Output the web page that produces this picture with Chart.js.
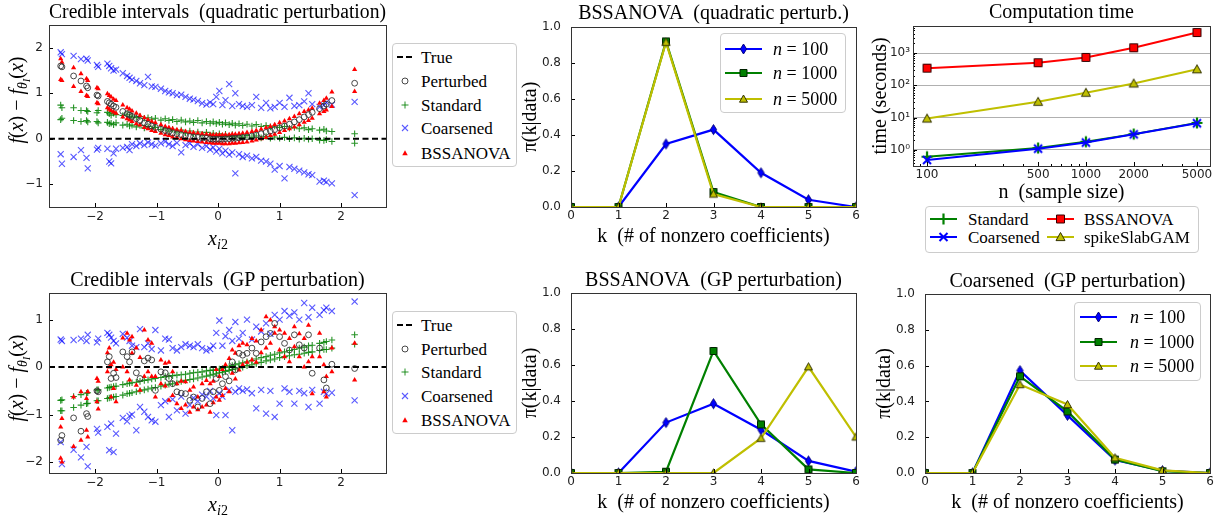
<!DOCTYPE html>
<html>
<head>
<meta charset="utf-8">
<title>Credible intervals and posterior on k</title>
<script src="https://cdn.jsdelivr.net/npm/chart.js@4.4.1/dist/chart.umd.min.js"></script>
<style>
  html, body { margin: 0; padding: 0; background: #fff; }
  body { position: relative; width: 1221px; height: 516px; overflow: hidden; }
  canvas { position: absolute; }
  .legend { position: absolute; box-sizing: border-box; border: 1px solid #cccccc; border-radius: 4px; background: rgba(255,255,255,0.85); font-family: 'Liberation Serif', serif; color: #000; }
  .legend span { position: absolute; line-height: 1; white-space: nowrap; transform: translateY(-50%); }
  .axlbl { position: absolute; font-family: 'Liberation Serif', serif; font-size: 20px; line-height: 1; white-space: nowrap; color: #000; }
  .axlbl sub { font-size: 0.7em; vertical-align: -0.3em; line-height: 0; }
</style>
</head>
<body>
<script>
// ---------- data ----------
// sample locations x_i2 (shared by both credible-interval panels)
const xPts = [
  -2.56, -2.54, -2.35, -2.23, -2.14, -2.12, -1.97, -1.95, -1.80, -1.77,
  -1.74, -1.70, -1.66, -1.55, -1.48, -1.44, -1.40, -1.33, -1.27, -1.20,
  -1.14, -1.08, -1.02, -0.93, -0.86, -0.80, -0.74, -0.67, -0.60, -0.53,
  -0.46, -0.40, -0.33, -0.26, -0.19, -0.13, -0.08, -0.03, 0.02, 0.07,
  0.12, 0.18, 0.23, 0.28, 0.34, 0.40, 0.47, 0.55, 0.62, 0.70,
  0.78, 0.85, 0.92, 1.00, 1.08, 1.16, 1.24, 1.32, 1.40, 1.47,
  1.53, 1.65, 1.72, 1.76, 1.85, 2.22
];

// quadratic perturbation
const quadPert = [
  1.60, 1.58, 1.38, 1.27, 1.16, 1.12, 0.96, 0.94, 0.82, 0.79,
  0.76, 0.72, 0.69, 0.60, 0.55, 0.52, 0.49, 0.44, 0.40, 0.35,
  0.32, 0.28, 0.25, 0.21, 0.18, 0.16, 0.13, 0.11, 0.09, 0.07,
  0.05, 0.04, 0.03, 0.02, 0.01, 0.00, -0.01, -0.01, -0.01, -0.01,
  0.00, 0.00, 0.01, 0.01, 0.02, 0.03, 0.04, 0.06, 0.08, 0.11,
  0.14, 0.17, 0.20, 0.24, 0.28, 0.32, 0.37, 0.42, 0.48, 0.53,
  0.58, 0.66, 0.72, 0.76, 0.84, 1.22
];
const quadBssHi = [
  1.76, 1.68, 1.56, 1.43, 1.32, 1.28, 1.12, 1.10, 0.99, 0.95,
  0.92, 0.87, 0.84, 0.74, 0.68, 0.65, 0.61, 0.56, 0.51, 0.46,
  0.42, 0.38, 0.35, 0.31, 0.27, 0.25, 0.22, 0.20, 0.18, 0.16,
  0.14, 0.13, 0.12, 0.11, 0.10, 0.09, 0.08, 0.08, 0.08, 0.08,
  0.09, 0.09, 0.10, 0.10, 0.11, 0.12, 0.14, 0.16, 0.18, 0.21,
  0.24, 0.27, 0.31, 0.35, 0.39, 0.44, 0.49, 0.55, 0.60, 0.63,
  0.67, 0.78, 0.84, 0.89, 1.03, 1.52
];
const quadBssLo = [
  1.30, 1.28, 1.15, 1.04, 0.95, 0.93, 0.79, 0.77, 0.68, 0.65,
  0.62, 0.59, 0.56, 0.48, 0.44, 0.41, 0.38, 0.33, 0.30, 0.25,
  0.22, 0.18, 0.16, 0.12, 0.09, 0.07, 0.04, 0.02, 0.00, -0.02,
  -0.04, -0.05, -0.06, -0.07, -0.08, -0.09, -0.10, -0.10, -0.10, -0.11,
  -0.11, -0.11, -0.10, -0.10, -0.09, -0.08, -0.07, -0.05, -0.03, 0.00,
  0.03, 0.07, 0.10, 0.14, 0.18, 0.22, 0.26, 0.31, 0.36, 0.40,
  0.45, 0.55, 0.60, 0.63, 0.71, 1.04
];
const quadStdHi = [
  0.74, 0.68, 0.68, 0.62, 0.62, 0.60, 0.57, 0.62, 0.58, 0.55,
  0.52, 0.56, 0.53, 0.51, 0.54, 0.48, 0.50, 0.47, 0.49, 0.45,
  0.46, 0.43, 0.45, 0.41, 0.44, 0.40, 0.42, 0.38, 0.41, 0.37,
  0.39, 0.36, 0.40, 0.35, 0.38, 0.34, 0.37, 0.33, 0.36, 0.32,
  0.35, 0.31, 0.34, 0.30, 0.33, 0.29, 0.32, 0.28, 0.31, 0.27,
  0.29, 0.26, 0.28, 0.25, 0.27, 0.23, 0.25, 0.22, 0.24, 0.20,
  0.22, 0.19, 0.21, 0.17, 0.16, 0.11
];
const quadStdLo = [
  0.42, 0.45, 0.40, 0.38, 0.40, 0.37, 0.38, 0.35, 0.36, 0.33,
  0.34, 0.31, 0.35, 0.30, 0.32, 0.28, 0.30, 0.26, 0.29, 0.24,
  0.27, 0.22, 0.25, 0.20, 0.23, 0.17, 0.21, 0.15, 0.19, 0.13,
  0.17, 0.11, 0.15, 0.10, 0.14, 0.08, 0.12, 0.07, 0.11, 0.06,
  0.10, 0.05, 0.09, 0.04, 0.08, 0.03, 0.07, 0.03, 0.06, 0.02,
  0.05, 0.01, 0.04, 0.01, 0.03, 0.00, 0.02, -0.01, 0.01, -0.01,
  0.00, -0.03, -0.04, -0.02, -0.06, -0.10
];
const quadCoarHi = [
  1.90, 1.86, 1.82, 1.75, 1.76, 1.72, 1.62, 1.58, 1.65, 1.60,
  1.55, 1.50, 1.52, 1.44, 1.38, 1.34, 1.30, 1.27, 1.22, 1.18,
  1.36, 1.15, 1.14, 1.10, 1.05, 1.02, 1.00, 0.96, 0.97, 0.92,
  0.88, 0.86, 0.83, 0.78, 0.75, 0.80, 0.76, 0.92, 1.05, 0.74,
  0.85, 1.20, 0.72, 1.00, 0.76, 0.72, 0.70, 0.74, 0.92, 0.68,
  0.79, 0.67, 0.70, 0.79, 0.70, 0.90, 0.72, 0.74, 0.82, 1.00,
  0.76, 0.70, 0.74, 0.80, 0.75, 0.81
];
const quadCoarLo = [
  -0.34, -0.55, -0.40, -0.25, -0.42, -0.65, -0.24, -0.20, -0.22, -0.50,
  -0.54, -0.32, -0.22, -0.20, -0.18, -0.25, -0.12, -0.16, -0.10, -0.14,
  -0.08, -0.12, -0.15, -0.10, -0.06, -0.12, -0.16, -0.09, -0.30, -0.14,
  -0.10, -0.18, -0.12, -0.20, -0.16, -0.24, -0.19, -0.28, -0.22, -0.32,
  -0.26, -0.35, -0.30, -0.76, -0.34, -0.40, -0.37, -0.43, -0.40, -0.48,
  -0.50, -0.55, -0.68, -0.60, -0.87, -0.62, -0.66, -0.70, -0.74, -0.78,
  -0.80, -0.94, -0.92, -0.95, -0.98, -1.24
];

// GP perturbation
const gpPert = [
  -1.54, -1.44, -1.07, -1.35, -0.98, -1.04, -0.50, -0.52, 0.11, 0.22,
  -0.24, -0.13, -0.22, 0.32, 0.22, 0.11, 0.32, -0.12, -0.24, 0.13,
  0.19, 0.15, -0.49, -0.10, -0.12, -0.24, -0.35, -0.52, -0.55, -0.56,
  -0.70, -0.63, -0.84, -0.66, -0.52, -0.77, -0.52, -0.24, -0.49, -0.35,
  -0.20, -0.29, 0.11, -0.06, 0.29, 0.25, 0.29, 0.40, 0.29, 0.53,
  0.64, 0.71, 0.92, 0.64, 0.50, 0.36, 0.68, 0.47, 0.40, 0.68,
  -0.13, 0.40, -0.27, -0.44, 0.06, -0.03
];
const gpBssHi = [
  -1.26, -1.08, -0.63, -0.52, -0.66, -0.52, -0.24, -0.30, 0.30, 0.40,
  0.05, 0.10, -0.05, 0.61, 0.71, 0.57, 0.64, 0.40, 0.20, 0.78,
  0.57, 0.50, -0.20, 0.15, 0.08, 0.10, -0.10, -0.35, -0.30, -0.31,
  -0.49, -0.42, -0.63, -0.35, -0.28, -0.35, -0.30, -0.05, -0.20, -0.05,
  0.05, 0.18, 0.36, 0.29, 0.45, 0.50, 0.47, 0.60, 0.55, 0.78,
  1.06, 0.99, 0.85, 0.78, 0.71, 0.60, 0.85, 0.70, 0.60, 0.88,
  0.22, 0.71, 0.05, -0.20, 0.40, 0.50
];
const gpBssLo = [
  -1.92, -2.00, -1.67, -1.54, -1.33, -1.47, -0.73, -0.88, -0.10, 0.00,
  -0.63, -0.45, -0.73, 0.00, -0.10, -0.27, 0.29, -0.38, -0.49, -0.20,
  -0.10, -0.20, -0.63, -0.35, -0.40, -0.70, -0.60, -0.77, -0.87, -0.80,
  -0.95, -0.84, -0.90, -0.84, -0.80, -0.95, -0.75, -0.63, -0.70, -0.60,
  -0.45, -0.52, -0.13, -0.25, -0.06, 0.05, 0.10, 0.15, 0.10, 0.30,
  0.40, 0.50, 0.71, 0.36, 0.22, 0.11, 0.43, 0.22, 0.00, 0.11,
  -0.56, 0.22, -0.52, -0.63, -0.10, -0.27
];
const gpStdHi = [
  -0.70, -0.69, -0.62, -0.58, -0.55, -0.54, -0.48, -0.48, -0.44, -0.43,
  -0.42, -0.41, -0.40, -0.37, -0.35, -0.34, -0.33, -0.32, -0.30, -0.28,
  -0.27, -0.25, -0.24, -0.22, -0.20, -0.19, -0.18, -0.17, -0.16, -0.15,
  -0.13, -0.12, -0.11, -0.10, -0.08, -0.07, -0.06, -0.06, -0.04, -0.03,
  -0.01, 0.01, 0.03, 0.05, 0.07, 0.09, 0.11, 0.14, 0.17, 0.20,
  0.22, 0.25, 0.27, 0.30, 0.32, 0.35, 0.37, 0.40, 0.42, 0.45,
  0.46, 0.50, 0.52, 0.54, 0.57, 0.68
];
const gpStdLo = [
  -0.92, -0.92, -0.85, -0.80, -0.77, -0.76, -0.71, -0.71, -0.66, -0.65,
  -0.64, -0.63, -0.62, -0.59, -0.56, -0.55, -0.54, -0.52, -0.50, -0.48,
  -0.46, -0.44, -0.43, -0.40, -0.38, -0.36, -0.35, -0.33, -0.30, -0.28,
  -0.26, -0.25, -0.23, -0.21, -0.19, -0.17, -0.15, -0.14, -0.12, -0.11,
  -0.09, -0.07, -0.05, -0.04, -0.02, 0.00, 0.03, 0.05, 0.07, 0.10,
  0.13, 0.15, 0.17, 0.20, 0.22, 0.24, 0.26, 0.27, 0.29, 0.31,
  0.32, 0.35, 0.37, 0.37, 0.40, 0.48
];
const gpCoarHi = [
  0.58, 0.55, 0.57, 0.60, 0.55, 0.68, 0.52, 0.60, 0.72, 0.68,
  0.62, 0.55, 0.50, 0.70, 0.62, 0.55, 0.45, 0.42, 0.80, 0.42,
  0.50, 0.38, 0.78, 0.35, 0.60, 0.58, 0.40, 0.35, 0.42, 0.48,
  0.45, 0.42, 0.48, 0.40, 0.35, 0.38, 0.45, 0.72, 0.98, 0.45,
  0.65, 0.78, 0.55, 0.95, 0.60, 0.72, 1.00, 0.58, 0.85, 0.75,
  0.92, 0.70, 1.10, 1.00, 1.18, 1.08, 1.15, 1.00, 1.35, 1.05,
  1.25, 1.10, 1.20, 1.25, 1.18, 1.38
];
const gpCoarLo = [
  -1.58, -2.04, -1.74, -1.90, -1.68, -2.09, -1.30, -1.38, -1.26, -1.75,
  -1.19, -1.79, -1.40, -1.07, -1.14, -1.03, -1.00, -1.33, -0.84, -0.94,
  -1.05, -1.12, -1.15, -0.80, -0.72, -1.05, -0.68, -0.91, -0.62, -0.98,
  -0.80, -0.65, -0.72, -0.58, -0.62, -0.50, -0.66, -1.01, -0.55, -0.62,
  -1.01, -0.48, -1.33, -0.52, -0.45, -0.50, -0.47, -0.55, -0.87, -0.48,
  -0.98, -0.50, -1.05, -0.77, -0.45, -0.52, -0.77, -0.50, -0.55, -0.84,
  -0.48, -0.77, -0.52, -0.56, -0.54, -0.70
];
const trueDiff = [0, 0];           // f(x) - f_theta(x) for the true model, at both axis ends

// posterior on k
const kVals = [0, 1, 2, 3, 4, 5, 6];
const quadN100 = [0, 0, 0.35, 0.43, 0.19, 0.04, 0.0];
const quadN1000 = [0, 0, 0.92, 0.083, 0, 0, 0];
const quadN5000 = [0, 0, 0.915, 0.072, 0, 0, 0];
const gpN100 = [0, 0, 0.28, 0.385, 0.24, 0.067, 0.007];
const gpN1000 = [0, 0, 0.007, 0.678, 0.27, 0.02, 0];
const gpN5000 = [0, 0, 0, 0, 0.193, 0.59, 0.2];
const coarN100 = [0, 0, 0.572, 0.322, 0.072, 0.013, 0];
const coarN1000 = [0, 0, 0.54, 0.344, 0.075, 0.01, 0];
const coarN5000 = [0, 0, 0.494, 0.383, 0.085, 0.015, 0];

// computation time
const nSizes = [100, 500, 1000, 2000, 5000];
const timeStandard = [0.62, 1.15, 1.8, 3.1, 6.9];
const timeCoarsened = [0.49, 1.1, 1.7, 3.05, 6.7];
const timeBssanova = [340, 500, 730, 1450, 4300];
const timeSpike = [9.4, 31, 59, 114, 313];

// axis limits and tick labels
const scatterXRange = [-2.75, 2.73];
const quadYRange = [-1.5, 2.5];
const gpYRange = [-2.23, 1.56];
const scatterXTicks = [-2, -1, 0, 1, 2];
const quadYTicks = [-1, 0, 1, 2];
const gpYTicks = [-2, -1, 0, 1];
const kTicks = [0, 1, 2, 3, 4, 5, 6];
const probTicks = [0, 0.2, 0.4, 0.6, 0.8, 1.0];
const nRange = [81.6, 6040];
const timeRange = [0.32, 6840];
const nTicks = [100, 500, 1000, 2000, 5000];
const nMinor = [90, 200, 300, 400, 600, 700, 800, 900, 3000, 4000, 6000];
const timeTicks = [1, 10, 100, 1000];
const timeMinor = [0.4, 0.5, 0.6, 0.7, 0.8, 0.9, 2, 3, 4, 5, 6, 7, 8, 9,
  20, 30, 40, 50, 60, 70, 80, 90, 200, 300, 400, 500, 600, 700, 800, 900,
  2000, 3000, 4000, 5000, 6000];

// ---------- layout (canvas box c*, plot box p*) ----------
const G = {
  quadScatter: { cl: 0, ct: 0, cr: 392, cb: 247, pl: 49, pt: 25, pr: 386, pb: 207, titleY: 13 },
  quadBss: { cl: 516, ct: 0, cr: 866, cb: 250, pl: 571, pt: 27, pr: 856, pb: 207, titleY: 14, xTitleY: 237, yTitleX: 531 },
  time: { cl: 868, ct: 0, cr: 1221, cb: 205, pl: 913, pt: 26, pr: 1210, pb: 166, titleY: 13, xTitleY: 193, yTitleX: 881 },
  gpScatter: { cl: 0, ct: 262, cr: 392, cb: 516, pl: 49, pt: 293, pr: 386, pb: 473, titleY: 281 },
  gpBss: { cl: 516, ct: 262, cr: 866, cb: 516, pl: 571, pt: 293, pr: 856, pb: 473, titleY: 281, xTitleY: 503, yTitleX: 531 },
  gpCoarse: { cl: 870, ct: 262, cr: 1221, cb: 516, pl: 925, pt: 293, pr: 1210, pb: 473, titleY: 282, xTitleY: 503, yTitleX: 885 }
};

const serif = "'Liberation Serif', 'Times New Roman', serif";
const sans = "'DejaVu Sans', sans-serif";
Chart.defaults.font.family = sans;

// ---------- markers ----------
const BLUE = '#0000ff', GREEN = '#008000', YELLOW = '#bfbf00', RED = '#ff0000';
const mk = {
  diamond: { shape: 'diamond', size: 10, fill: BLUE, edge: '#000080', lw: 1 },
  squareG: { shape: 'square', size: 7, fill: GREEN, edge: '#002200', lw: 1 },
  triY: { shape: 'triangle', size: 8, fill: YELLOW, edge: '#333300', lw: 1 },
  plusG: { shape: 'plus', size: 11, edge: GREEN, lw: 2.2 },
  xB: { shape: 'x', size: 8, edge: BLUE, lw: 2 },
  squareR: { shape: 'square', size: 8, fill: RED, edge: '#330000', lw: 1 },
  triY9: { shape: 'triangle', size: 9, fill: YELLOW, edge: '#333300', lw: 1 },
  circ: { shape: 'circle', size: 6, edge: '#333', lw: 0.9 },
  plusS: { shape: 'plus', size: 7, edge: 'rgba(0,128,0,0.85)', lw: 1 },
  xS: { shape: 'x', size: 6, edge: 'rgba(0,0,255,0.65)', lw: 1.1 },
  triS: { shape: 'triangle', size: 5.5, fill: RED }
};

function drawShape(ctx, m) {
  const h = m.size / 2;
  ctx.beginPath();
  switch (m.shape) {
    case 'circle': ctx.arc(0, 0, h, 0, Math.PI * 2); break;
    case 'diamond': ctx.moveTo(0, -h); ctx.lineTo(h * 0.62, 0); ctx.lineTo(0, h); ctx.lineTo(-h * 0.62, 0); ctx.closePath(); break;
    case 'square': ctx.rect(-h, -h, m.size, m.size); break;
    case 'triangle': ctx.moveTo(0, -h); ctx.lineTo(h, h * 0.8); ctx.lineTo(-h, h * 0.8); ctx.closePath(); break;
    case 'plus': ctx.moveTo(-h, 0); ctx.lineTo(h, 0); ctx.moveTo(0, -h); ctx.lineTo(0, h); break;
    case 'x': ctx.moveTo(-h, -h); ctx.lineTo(h, h); ctx.moveTo(h, -h); ctx.lineTo(-h, h); break;
  }
  if (m.fill) { ctx.fillStyle = m.fill; ctx.fill(); }
  if (m.edge) { ctx.strokeStyle = m.edge; ctx.lineWidth = m.lw; ctx.stroke(); }
}

function markerImage(m) {
  const w = Math.ceil(m.size + (m.lw || 0) + 2);
  const c = document.createElement('canvas');
  c.width = w; c.height = w;
  const ctx = c.getContext('2d');
  ctx.translate(w / 2, w / 2);
  drawShape(ctx, m);
  return c;
}

function legendIcon(w, line, m) {
  const c = document.createElement('canvas');
  c.width = w; c.height = 16;
  const ctx = c.getContext('2d');
  if (line) {
    ctx.strokeStyle = line.color; ctx.lineWidth = line.lw;
    ctx.setLineDash(line.dash || []);
    ctx.beginPath(); ctx.moveTo(0, 8); ctx.lineTo(w, 8); ctx.stroke();
    ctx.setLineDash([]);
  }
  if (m) { ctx.translate(w / 2, 8); drawShape(ctx, m); }
  return c;
}

// ---------- frame + inward ticks ----------
const framePlugin = {
  id: 'frame',
  afterDatasetsDraw(chart, args, opts) {
    const { ctx, chartArea: a, scales } = chart;
    const line = (x1, y1, x2, y2) => { ctx.beginPath(); ctx.moveTo(x1, y1); ctx.lineTo(x2, y2); ctx.stroke(); };
    const inside = (s, v) => v >= s.min && v <= s.max;
    ctx.save();
    ctx.strokeStyle = '#000';
    ctx.lineWidth = 1;
    scales.x.ticks.forEach(t => {
      const p = Math.round(scales.x.getPixelForValue(t.value)) + 0.5;
      line(p, a.bottom, p, a.bottom - 4);
    });
    scales.y.ticks.forEach(t => {
      const p = Math.round(scales.y.getPixelForValue(t.value)) + 0.5;
      line(a.left, p, a.left + 4, p);
    });
    (opts.xMinor || []).filter(v => inside(scales.x, v)).forEach(v => {
      const p = Math.round(scales.x.getPixelForValue(v)) + 0.5;
      line(p, a.bottom, p, a.bottom - 2);
    });
    (opts.yMinor || []).filter(v => inside(scales.y, v)).forEach(v => {
      const p = Math.round(scales.y.getPixelForValue(v)) + 0.5;
      line(a.left, p, a.left + 2, p);
    });
    ctx.strokeStyle = '#333';
    ctx.strokeRect(Math.round(a.left) + 0.5, Math.round(a.top) + 0.5,
      Math.round(a.right - a.left), Math.round(a.bottom - a.top));
    ctx.restore();
  }
};
Chart.register(framePlugin);

// ---------- helpers ----------
const fmtInt = v => (v < 0 ? '\u2212' + Math.abs(v) : String(v));
const fmtProb = v => v.toFixed(1);
const sup = ['\u2070', '\u00b9', '\u00b2', '\u00b3'];
const fmtPow = v => '10' + sup[Math.round(Math.log10(v))];

function makeCanvas(g) {
  const c = document.createElement('canvas');
  c.width = g.cr - g.cl;
  c.height = g.cb - g.ct;
  c.style.left = g.cl + 'px';
  c.style.top = g.ct + 'px';
  document.body.appendChild(c);
  return c;
}

function axTitle(text, pad) {
  return { display: true, text, color: '#000', font: { family: serif, size: 20, lineHeight: 1.2 }, padding: { top: pad, bottom: pad } };
}

function axis(type, range, ticks, fmt, pad, title, grid) {
  const g = grid || { display: false };
  g.drawTicks = false;
  return {
    type, min: range[0], max: range[1], bounds: 'data',
    afterBuildTicks: s => { s.ticks = ticks.map(v => ({ value: v })); },
    grid: g,
    border: { display: false },
    ticks: { callback: fmt, padding: pad, color: '#222', font: { family: sans, size: 12 }, autoSkip: false, maxRotation: 0, minRotation: 0 },
    title: title || { display: false }
  };
}

function baseOptions(g, titleText, xAxis, yAxis, frameOpts) {
  const tH = g.pt - g.ct;
  const tTop = g.titleY - g.ct - 12;
  xAxis.position = 'bottom';
  yAxis.position = 'left';
  xAxis.afterFit = s => { s.height = g.cb - g.pb; };
  yAxis.afterFit = s => { s.width = g.pl - g.cl; };
  return {
    responsive: false,
    animation: false,
    events: [],
    layout: { padding: { left: 0, top: 0, right: g.cr - g.pr, bottom: 0 } },
    plugins: {
      legend: { display: false },
      tooltip: { enabled: false },
      title: {
        display: true, text: titleText, fullSize: false, color: '#000',
        font: { family: serif, size: 20, weight: 'normal', lineHeight: 1.2 },
        padding: { top: tTop, bottom: Math.max(tH - 24 - tTop, 0) }
      },
      frame: frameOpts || {}
    },
    scales: { x: xAxis, y: yAxis }
  };
}

function addLegend(box, fontSize, rows) {
  const div = document.createElement('div');
  div.className = 'legend';
  div.style.left = box.x + 'px';
  div.style.top = box.y + 'px';
  div.style.width = box.w + 'px';
  div.style.height = box.h + 'px';
  div.style.fontSize = fontSize + 'px';
  rows.forEach(r => {
    const ic = r.icon;
    ic.style.left = (r.cx - ic.width / 2 - 1) + 'px';
    ic.style.top = (r.cy - ic.height / 2 - 1) + 'px';
    div.appendChild(ic);
    const sp = document.createElement('span');
    sp.innerHTML = r.text;
    sp.style.left = (r.tx - 1) + 'px';
    sp.style.top = (r.cy - 1) + 'px';
    div.appendChild(sp);
  });
  document.body.appendChild(div);
}

function addLabel(html, cx, cy, rotate) {
  const d = document.createElement('div');
  d.className = 'axlbl';
  d.innerHTML = html;
  d.style.left = cx + 'px';
  d.style.top = cy + 'px';
  d.style.transform = 'translate(-50%,-50%)' + (rotate ? ' rotate(-90deg)' : '');
  document.body.appendChild(d);
}

// ---------- credible-interval scatter panels ----------
function scatterChart(g, title, yRange, yTicks, s) {
  const pts = arr => xPts.map((x, i) => ({ x, y: arr[i] }));
  new Chart(makeCanvas(g), {
    type: 'scatter',
    data: {
      datasets: [
        { label: 'True', data: scatterXRange.map((x, i) => ({ x, y: trueDiff[i] })), showLine: true,
          borderColor: '#000', borderWidth: 2, borderDash: [6, 3.5], pointRadius: 0, order: 0 },
        { label: 'Perturbed', data: pts(s.pert), pointStyle: 'circle', pointRadius: 2.9,
          pointBackgroundColor: 'rgba(0,0,0,0)', pointBorderColor: '#333', pointBorderWidth: 0.9, order: 1 },
        { label: 'BSSANOVA', data: pts(s.bssHi).concat(pts(s.bssLo)), pointStyle: 'triangle', pointRadius: 3,
          pointBackgroundColor: RED, pointBorderColor: RED, pointBorderWidth: 0, order: 2 },
        { label: 'Standard', data: pts(s.stdHi).concat(pts(s.stdLo)), pointStyle: 'cross', pointRadius: 3.3,
          pointBackgroundColor: 'rgba(0,128,0,0.85)', pointBorderColor: 'rgba(0,128,0,0.85)', pointBorderWidth: 1.1, order: 3 },
        { label: 'Coarsened', data: pts(s.coarHi).concat(pts(s.coarLo)), pointStyle: 'crossRot', pointRadius: 4.3,
          pointBackgroundColor: 'rgba(0,0,255,0.65)', pointBorderColor: 'rgba(0,0,255,0.65)', pointBorderWidth: 1.1, order: 4 }
      ]
    },
    options: baseOptions(g, title,
      axis('linear', scatterXRange, scatterXTicks, fmtInt, 3),
      axis('linear', yRange, yTicks, fmtInt, 6))
  });
}

scatterChart(G.quadScatter, 'Credible intervals  (quadratic perturbation)', quadYRange, quadYTicks,
  { pert: quadPert, bssHi: quadBssHi, bssLo: quadBssLo, stdHi: quadStdHi, stdLo: quadStdLo, coarHi: quadCoarHi, coarLo: quadCoarLo });
scatterChart(G.gpScatter, 'Credible intervals  (GP perturbation)', gpYRange, gpYTicks,
  { pert: gpPert, bssHi: gpBssHi, bssLo: gpBssLo, stdHi: gpStdHi, stdLo: gpStdLo, coarHi: gpCoarHi, coarLo: gpCoarLo });

const yLbl = '<i>f</i>(<i>x</i>) \u2212 <i>f</i><sub><i>\u03b8</i><sub><i>I</i></sub></sub>(<i>x</i>)';
const xLbl = '<i>x</i><sub><i>i</i>2</sub>';
addLabel(yLbl, 17, 100, true);
addLabel(xLbl, 218, 238, false);
addLabel(yLbl, 17, 378, true);
addLabel(xLbl, 218, 504, false);

function scatterLegendRows(rowY) {
  const items = [
    ['True', legendIcon(16, { color: '#000', lw: 2, dash: [6, 3] }, null)],
    ['Perturbed', legendIcon(16, null, mk.circ)],
    ['Standard', legendIcon(16, null, mk.plusS)],
    ['Coarsened', legendIcon(16, null, mk.xS)],
    ['BSSANOVA', legendIcon(16, null, mk.triS)]
  ];
  return items.map((it, i) => ({ text: it[0], icon: it[1], cx: 13, cy: rowY[i], tx: 29 }));
}
addLegend({ x: 392, y: 43, w: 125, h: 124 }, 17, scatterLegendRows([14, 38, 62, 85, 110]));
addLegend({ x: 392, y: 311, w: 125, h: 123 }, 17, scatterLegendRows([14, 38, 61, 85, 109]));

// ---------- posterior on k panels ----------
function kChart(g, title, series) {
  new Chart(makeCanvas(g), {
    type: 'line',
    data: {
      datasets: series.map(s => ({
        label: s.label,
        data: kVals.map((k, i) => ({ x: k, y: s.values[i] })),
        borderColor: s.color, backgroundColor: s.color, borderWidth: 2.2,
        pointStyle: markerImage(s.marker), pointRadius: 5, order: s.order
      }))
    },
    options: baseOptions(g, title,
      axis('linear', [0, 6], kTicks, fmtInt, 2, axTitle('k  (# of nonzero coefficients)', g.cb - g.xTitleY - 12)),
      axis('linear', [0, 1], probTicks, fmtProb, 10, axTitle('\u03c0(k|data)', g.yTitleX - g.cl - 12)))
  });
}

function nSeries(v100, v1000, v5000) {
  return [
    { label: 'n = 100', values: v100, color: BLUE, marker: mk.diamond, order: 3 },
    { label: 'n = 1000', values: v1000, color: GREEN, marker: mk.squareG, order: 2 },
    { label: 'n = 5000', values: v5000, color: YELLOW, marker: mk.triY, order: 1 }
  ];
}

kChart(G.quadBss, 'BSSANOVA  (quadratic perturb.)', nSeries(quadN100, quadN1000, quadN5000));
kChart(G.gpBss, 'BSSANOVA  (GP perturbation)', nSeries(gpN100, gpN1000, gpN5000));
kChart(G.gpCoarse, 'Coarsened  (GP perturbation)', nSeries(coarN100, coarN1000, coarN5000));

function nLegendRows(rowY, cx, tx) {
  return nSeries([], [], []).map((s, i) => ({
    text: '<i>n</i> = ' + s.label.split('= ')[1],
    icon: legendIcon(37, { color: s.color, lw: 2.2 }, s.marker),
    cx, cy: rowY[i], tx
  }));
}
addLegend({ x: 720, y: 33, w: 126, h: 80 }, 18, nLegendRows([16, 40, 66], 23.5, 53));
addLegend({ x: 1074, y: 302, w: 127, h: 79 }, 18, nLegendRows([15, 40, 64], 24.5, 56));

// ---------- computation time ----------
const timeSeries = [
  { label: 'Standard', values: timeStandard, color: GREEN, marker: mk.plusG, order: 4 },
  { label: 'Coarsened', values: timeCoarsened, color: BLUE, marker: mk.xB, order: 3 },
  { label: 'BSSANOVA', values: timeBssanova, color: RED, marker: mk.squareR, order: 2 },
  { label: 'spikeSlabGAM', values: timeSpike, color: YELLOW, marker: mk.triY9, order: 1 }
];

new Chart(makeCanvas(G.time), {
  type: 'line',
  data: {
    datasets: timeSeries.map(s => ({
      label: s.label,
      data: nSizes.map((n, i) => ({ x: n, y: s.values[i] })),
      borderColor: s.color, backgroundColor: s.color, borderWidth: 2,
      pointStyle: markerImage(s.marker), pointRadius: 5, order: s.order
    }))
  },
  options: baseOptions(G.time, 'Computation time',
    axis('logarithmic', nRange, nTicks, v => String(v), 2, axTitle('n  (sample size)', G.time.cb - G.time.xTitleY - 12)),
    axis('logarithmic', timeRange, timeTicks, fmtPow, 3, axTitle('time (seconds)', G.time.yTitleX - G.time.cl - 12),
      { display: true, color: '#b0b0b0', lineWidth: 1 }),
    { xMinor: nMinor, yMinor: timeMinor })
});

addLegend({ x: 925, y: 206, w: 274, h: 47 }, 17, timeSeries.map((s, i) => ({
  text: s.label,
  icon: legendIcon(27, { color: s.color, lw: 2 }, s.marker),
  cx: i < 2 ? 18.5 : 135.5,
  cy: i % 2 === 0 ? 13 : 31,
  tx: i < 2 ? 43 : 159
})));
</script>
</body>
</html>
